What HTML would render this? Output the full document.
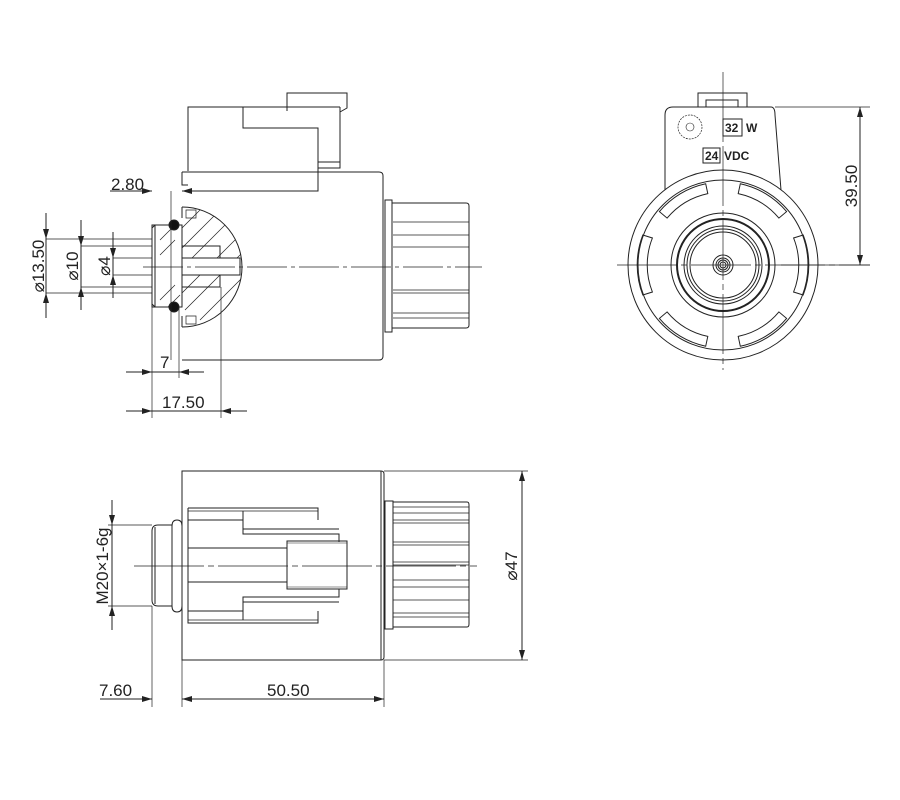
<!DOCTYPE html>
<html><head><meta charset="utf-8"><style>
html,body{margin:0;padding:0;background:#fff;}
svg{display:block;}
text{font-family:"Liberation Sans",Arial,sans-serif;fill:#222;}
</style></head><body>
<svg width="900" height="800" viewBox="0 0 900 800" xmlns="http://www.w3.org/2000/svg">
<defs>
<marker id="a" viewBox="0 0 10 6" refX="10" refY="3" markerWidth="10" markerHeight="6" orient="auto-start-reverse" markerUnits="userSpaceOnUse"><path d="M0,0 L10,3 L0,6 z" fill="#222"/></marker>
<clipPath id="dome"><path d="M182,207 A60,60 0 0 1 182,327 Z"/></clipPath>
</defs>
<g fill="none" stroke="#222" stroke-width="1">
<!-- ===== TOP-LEFT VIEW ===== -->
<path d="M188,171 V107 H340"/>
<path d="M243,107 V128 H318 V191 H188"/>
<path d="M287,111 V93 H347 V108 L340,112"/>
<path d="M340,107 V168 H318"/>
<path d="M318,162 H340"/>
<path d="M182,172 H379 Q383,172 383,176 V356 Q383,360 379,360 H182"/>
<path d="M182,172 V185 H188"/>
<path d="M182,207 A60,60 0 0 1 182,327"/>
<g clip-path="url(#dome)" stroke-width="0.7">
<path d="M170,260 L230,200 M170,280 L250,200 M175,300 L260,215 M185,310 L260,235 M200,320 L260,260 M220,325 L260,285 M160,250 L215,195"/>
</g>
<path d="M182,246 H220 V258 M220,275 V287 H182"/>
<rect x="172" y="258" width="68" height="17" fill="#fff"/>
<path d="M172,258 H240 M172,275 H240 M172,258 V275"/>
<path d="M152,225 H182 V307 H152 Z" fill="#fff"/>
<path d="M152,228 L155,225 M152,304 L155,307"/>
<path d="M155,225 V307"/>
<path d="M160,240 L175,225 M160,255 L175,240 M160,300 L175,285 M168,307 L180,295" stroke-width="0.7"/>
<circle cx="174" cy="225" r="5" fill="#111"/>
<circle cx="174" cy="307" r="5" fill="#111"/>
<path d="M182,207 V218 M182,316 V327" />
<path d="M186,210 H196 V218 H186 Z M186,316 H196 V324 H186 Z" stroke-width="0.7"/>
<path d="M385,200 H392 V332 H385 Z"/>
<path d="M392,203 H466 Q469,203 469,206 V325 Q469,328 466,328 H392"/>
<path d="M393,222 H469 M393,235 H469 M393,247 H469 M393,290 H469 M393,293 H469 M393,313 H469 M393,318 H469" stroke-width="0.8"/>
<path d="M143,267 H482" stroke-dasharray="40,4,4,4" stroke-width="0.7"/>
<path d="M110,191 H152" marker-end="url(#a)"/>
<path d="M171,191 V360" stroke-width="0.7"/>
<path d="M182,191 H190" />
<path d="M200,191 H182" marker-end="url(#a)"/>
<path d="M46,239 H152 M46,293 H152 M81,246 H152 M81,287 H152 M113,258 H152 M113,275 H152" stroke-width="0.7"/>
<path d="M46,213 V239" marker-end="url(#a)"/><path d="M46,318 V293" marker-end="url(#a)"/><path d="M46,239 V293"/>
<path d="M81,220 V246" marker-end="url(#a)"/><path d="M81,310 V287" marker-end="url(#a)"/><path d="M81,246 V287"/>
<path d="M113,232 V258" marker-end="url(#a)"/><path d="M113,298 V275" marker-end="url(#a)"/><path d="M113,258 V275"/>
<path d="M152,307 V418 M179,307 V378 M221,287 V418" stroke-width="0.7"/>
<path d="M126,372 H152" marker-end="url(#a)"/><path d="M204,372 H179" marker-end="url(#a)"/><path d="M152,372 H179"/>
<path d="M126,411 H152" marker-end="url(#a)"/><path d="M247,411 H221" marker-end="url(#a)"/><path d="M152,411 H221"/>

<!-- ===== RIGHT VIEW ===== -->
<path d="M723,72 V370 M617,265 H870" stroke-dasharray="60,4,6,4" stroke-width="0.7"/>
<path d="M665,190 V115 Q665,107 673,107 H771 Q775,107 775,115 L781,190"/>
<path d="M698,107 V93 H747 V107"/>
<path d="M706,107 V100 H738 V107"/>
<circle cx="723" cy="265" r="95" fill="none"/>
<circle cx="723" cy="265" r="85"/>
<circle cx="723" cy="265" r="52"/>
<circle cx="723" cy="265" r="46" stroke-width="2"/>
<circle cx="723" cy="265" r="39"/>
<circle cx="723" cy="265" r="36"/>
<circle cx="723" cy="265" r="33"/>
<circle cx="723" cy="265" r="10"/>
<circle cx="723" cy="265" r="7"/>
<circle cx="723" cy="265" r="5"/>
<circle cx="723" cy="265" r="3"/>
<g stroke-width="1">
<path d="M707.8,193.6 A73,73 0 0 0 667.1,218.1 L659.4,211.6 A83,83 0 0 1 705.7,183.8 Z"/>
<path d="M738.2,193.6 A73,73 0 0 1 778.9,218.1 L786.6,211.6 A83,83 0 0 0 740.3,183.8 Z"/>
<path d="M707.8,336.4 A73,73 0 0 1 667.1,311.9 L659.4,318.4 A83,83 0 0 0 705.7,346.2 Z"/>
<path d="M738.2,336.4 A73,73 0 0 0 778.9,311.9 L786.6,318.4 A83,83 0 0 1 740.3,346.2 Z"/>
<path d="M652.4,238 A73,73 0 0 0 652.4,292 L642.8,295 A83,83 0 0 1 642.8,235 Z"/>
<path d="M793.6,238 A73,73 0 0 1 793.6,292 L803.2,295 A83,83 0 0 0 803.2,235 Z"/>
</g>
<circle cx="690" cy="127" r="12" stroke-width="0.7" stroke-dasharray="2,1"/>
<circle cx="690" cy="127" r="4" stroke-width="0.6"/>
<rect x="723" y="119" width="19" height="17"/>
<rect x="703" y="148" width="17" height="15"/>
<path d="M775,107 H870 M781,265 H870" stroke-width="0.7"/>
<path d="M860,265 V107" marker-end="url(#a)"/><path d="M860,107 V265" marker-end="url(#a)"/>

<!-- ===== BOTTOM VIEW ===== -->
<path d="M182,471 H381 Q384,471 384,474 V657 Q384,660 381,660 H182 Z"/>
<path d="M381,471 V660"/>
<path d="M158,525 H172 V606 H158 Q152,606 152,600 V531 Q152,525 158,525 Z"/>
<path d="M155,527 V604"/>
<path d="M172,526 Q172,520 177,520 Q182,520 182,526 V606 Q182,612 177,612 Q172,612 172,606"/>
<path d="M188,508 H318 V520 M188,508 V623 H318 V611"/>
<path d="M188,511 H318 M188,620 H318" stroke-width="0.7"/>
<path d="M188,520 H243 V534 H339 V542 M243,529 H339" />
<path d="M188,611 H243 V597 H339 V589 M243,602 H339"/>
<path d="M243,511 V520 M243,611 V620"/>
<path d="M188,548 H287 M188,582 H287"/>
<rect x="287" y="541" width="60" height="48"/>
<path d="M287,543 H347 M287,587 H347" stroke-width="0.6"/>
<path d="M385,501 H393 V629 H385 Z"/>
<path d="M393,502 H467 Q469,502 469,505 V624 Q469,627 467,627 H393"/>
<path d="M393,507 H469 M393,513 H469 M393,520 H469 M393,523 H469 M393,542 H469 M393,545 H469 M393,562 H469 M393,565 H469 M393,580 H469 M393,587 H469 M393,600 H469 M393,613 H469 M393,617 H469" stroke-width="0.8"/>
<path d="M134,566 H477" stroke-dasharray="70,4,6,4" stroke-width="0.7"/>
<path d="M108,525 H152 M108,606 H152 M384,471 H528 M384,660 H528" stroke-width="0.7"/>
<path d="M112,500 V525" marker-end="url(#a)"/><path d="M112,630 V606" marker-end="url(#a)"/><path d="M112,525 V606"/>
<path d="M522,660 V471" marker-end="url(#a)"/><path d="M522,471 V660" marker-end="url(#a)"/>
<path d="M152,606 V707 M182,660 V707 M384,660 V707" stroke-width="0.7"/>
<path d="M100,699 H152" marker-end="url(#a)"/>
<path d="M182,699 H384" marker-start="url(#a)" marker-end="url(#a)"/>
</g>
<g font-size="17">
<text x="111" y="190">2.80</text>
<text x="160" y="368">7</text>
<text x="162" y="408">17.50</text>
<text transform="translate(44,266) rotate(-90)" text-anchor="middle">⌀13.50</text>
<text transform="translate(78,266) rotate(-90)" text-anchor="middle">⌀10</text>
<text transform="translate(110,266) rotate(-90)" text-anchor="middle">⌀4</text>
<text transform="translate(857,186) rotate(-90)" text-anchor="middle">39.50</text>
<text transform="translate(517,566) rotate(-90)" text-anchor="middle">⌀47</text>
<text transform="translate(108,566) rotate(-90)" text-anchor="middle">M20×1-6g</text>
<text x="99" y="696">7.60</text>
<text x="267" y="696">50.50</text>
</g>
<g font-size="12" font-weight="bold">
<text x="725" y="132">32</text><text x="746" y="132">W</text>
<text x="705" y="160">24</text><text x="724" y="160">VDC</text>
</g>
</svg>
</body></html>
